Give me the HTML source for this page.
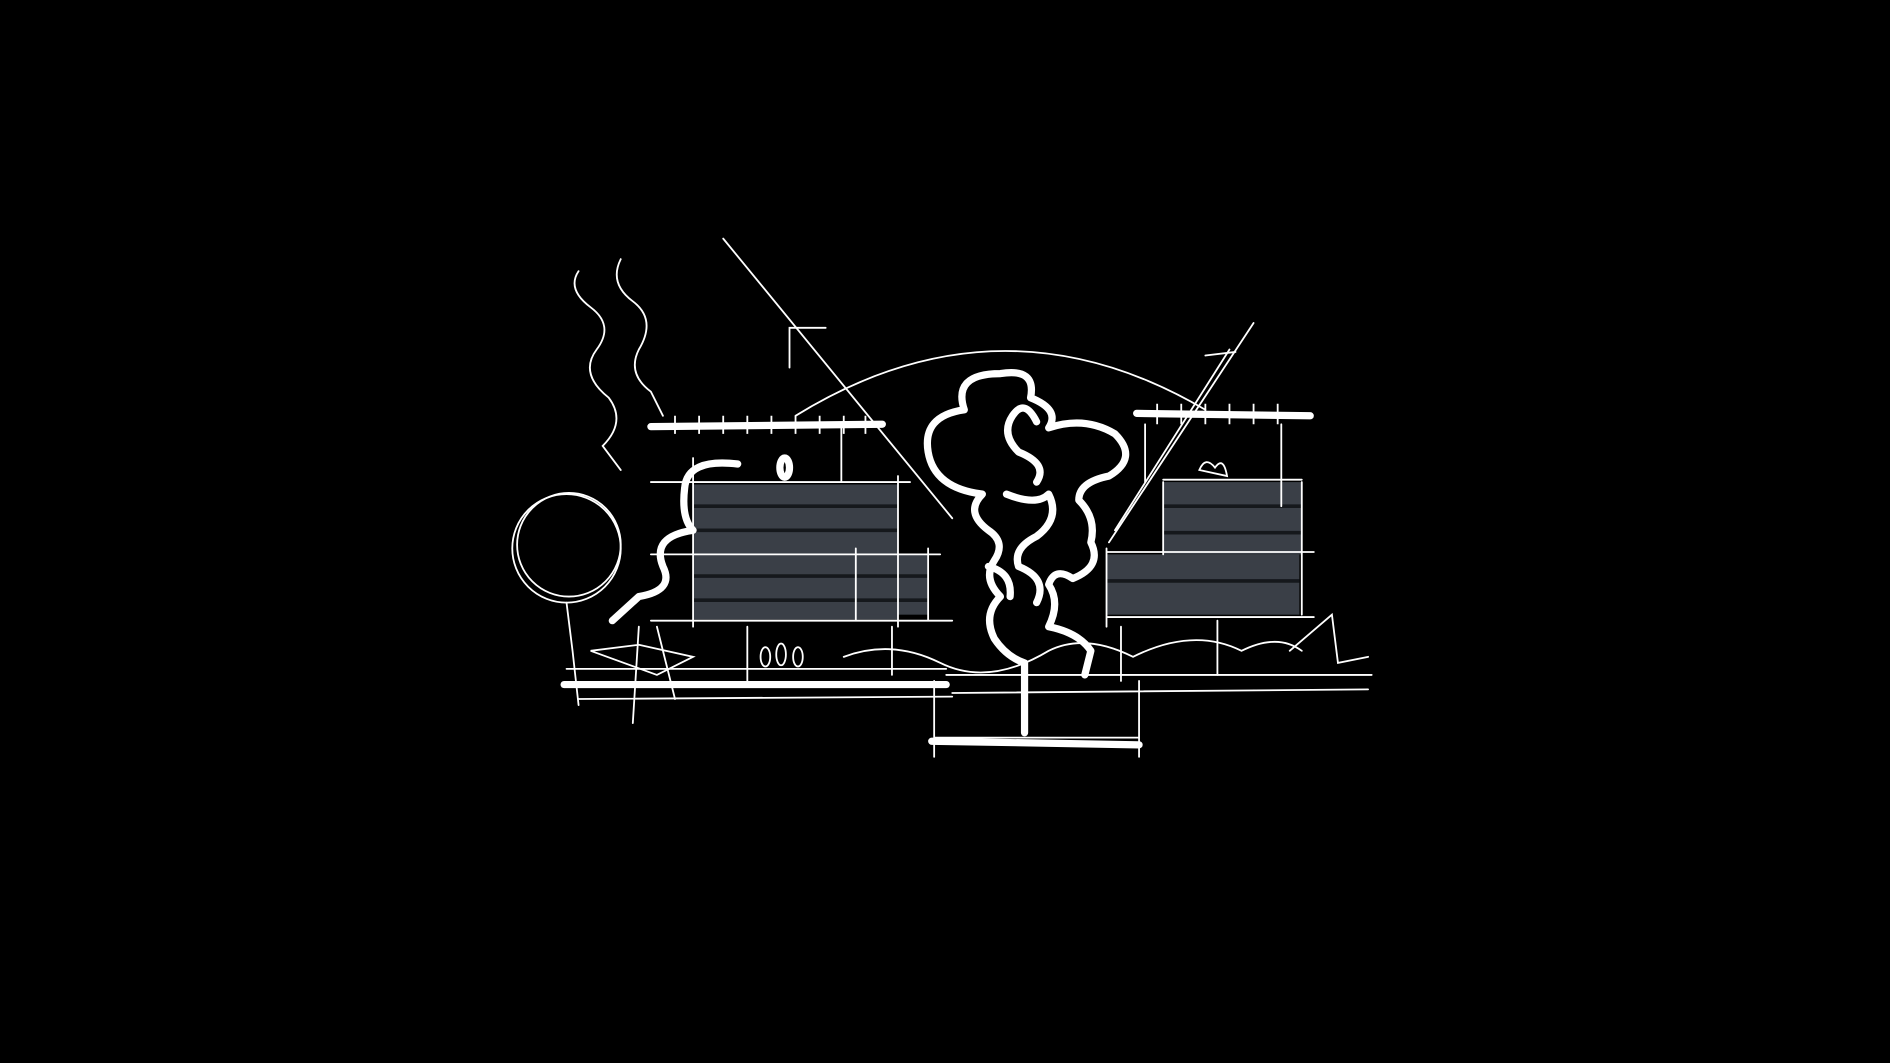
<!DOCTYPE html>
<html><head><meta charset="utf-8"><style>
html,body{margin:0;padding:0;background:#000;width:1890px;height:1063px;overflow:hidden}
svg{display:block}
</style></head><body>
<svg width="1890" height="1063" viewBox="0 0 1568 882" preserveAspectRatio="none" xmlns="http://www.w3.org/2000/svg">
<rect width="1568" height="882" fill="#000"/>
<g fill="#3a3f47">
<rect x="575" y="402" width="170" height="112"/>
<rect x="710" y="460" width="60" height="50"/>
<rect x="965" y="400" width="115" height="60"/>
<rect x="918" y="460" width="160" height="50"/>
</g>
<g stroke="#15181c" stroke-width="3">
<line x1="575" y1="420" x2="745" y2="420"/><line x1="575" y1="440" x2="745" y2="440"/>
<line x1="575" y1="478" x2="770" y2="478"/><line x1="575" y1="498" x2="770" y2="498"/>
<line x1="965" y1="420" x2="1080" y2="420"/><line x1="965" y1="442" x2="1080" y2="442"/>
<line x1="918" y1="482" x2="1078" y2="482"/>
</g>
<g fill="none" stroke="#fff" stroke-width="1.5" stroke-linecap="round">
<circle cx="470" cy="455" r="45"/><circle cx="472" cy="452" r="43"/>
<path d="M470 500 L475 540 L480 585"/>
<path d="M660 345 Q830 240 1000 340"/>
<line x1="600" y1="198" x2="790" y2="430"/>
<line x1="1040" y1="268" x2="920" y2="450"/>
<line x1="1020" y1="290" x2="925" y2="440"/>
<path d="M655 305 L655 272 L685 272"/>
<path d="M1000 295 L1025 292"/>
<path d="M480 225 Q470 240 490 255 Q510 270 495 290 Q480 310 505 330 Q520 350 500 370 L515 390"/>
<path d="M515 215 Q505 235 525 250 Q545 265 530 290 Q520 310 540 325 L550 345"/>
<path d="M540 400 L755 400 M540 460 L780 460 M540 515 L790 515 M575 380 L575 520 M745 395 L745 520 M710 455 L710 515 M770 455 L770 515"/>
<path d="M965 398 L1080 398 M918 458 L1090 458 M918 512 L1090 512 M965 400 L965 460 M1080 400 L1080 510 M918 455 L918 520"/>
<path d="M698 352 L698 400 M950 352 L950 400 M1063 352 L1063 420"/>
<path d="M470 555 L785 555 M785 560 L1138 560 M480 580 L790 578 M790 575 L1135 572"/>
<path d="M775 565 L775 628 M945 565 L945 628 M775 612 L945 612"/>
<path d="M490 540 L530 535 L575 545 L545 560 Z M530 520 L525 600 M545 520 L560 580"/>
<path d="M700 545 Q740 530 780 550 Q820 570 870 540 Q900 525 940 545 Q990 520 1030 540 Q1060 525 1080 540"/>
<path d="M1070 540 L1105 510 L1110 550 L1135 545"/>
<path d="M620 520 L620 570 M740 520 L740 560 M930 520 L930 565 M1010 515 L1010 560"/>
<ellipse cx="635" cy="545" rx="4" ry="8"/><ellipse cx="648" cy="543" rx="4" ry="9"/><ellipse cx="662" cy="545" rx="4" ry="8"/>
<path d="M995 390 Q1000 378 1008 388 Q1015 378 1018 395 Z"/>
</g>
<g fill="none" stroke="#fff" stroke-width="6" stroke-linecap="round" stroke-linejoin="round">
<line x1="540" y1="354" x2="732" y2="352"/>
<line x1="943" y1="343" x2="1087" y2="345"/>
<line x1="468" y1="568" x2="785" y2="568"/>
<line x1="773" y1="615" x2="945" y2="618"/>
<path d="M612 385 Q570 380 568 405 Q565 430 575 440 Q540 445 550 470 Q560 490 530 495 L508 515"/>
<ellipse cx="651" cy="388" rx="4" ry="8"/>
<path d="M850 608 L850 550 Q835 545 825 530 Q815 510 830 495 Q815 480 825 465 Q835 450 820 440 Q800 425 815 410 Q775 405 770 375 Q765 345 800 340 Q790 310 830 310 Q860 305 855 330 Q880 340 870 355 Q900 345 925 360 Q945 380 920 395 Q895 400 895 415 Q910 430 905 450 Q915 470 890 480 Q875 470 870 485 Q880 500 870 520 Q895 525 905 540 L900 560 M860 350 Q850 330 840 345 Q830 360 845 375 Q870 385 860 400 M835 410 Q860 420 870 410 Q880 430 860 445 Q840 455 845 470 Q870 480 860 500 M820 470 Q840 475 838 495"/>
</g>
<g stroke="#fff" stroke-width="1.5">
<path d="M560 345 V360 M580 345 V360 M600 345 V360 M620 345 V360 M640 345 V360 M660 345 V360 M680 345 V360 M700 345 V360 M718 345 V360"/>
<path d="M960 335 V352 M980 335 V352 M1000 335 V352 M1020 335 V352 M1040 335 V352 M1060 335 V352"/>
</g>
</svg>
</body></html>
